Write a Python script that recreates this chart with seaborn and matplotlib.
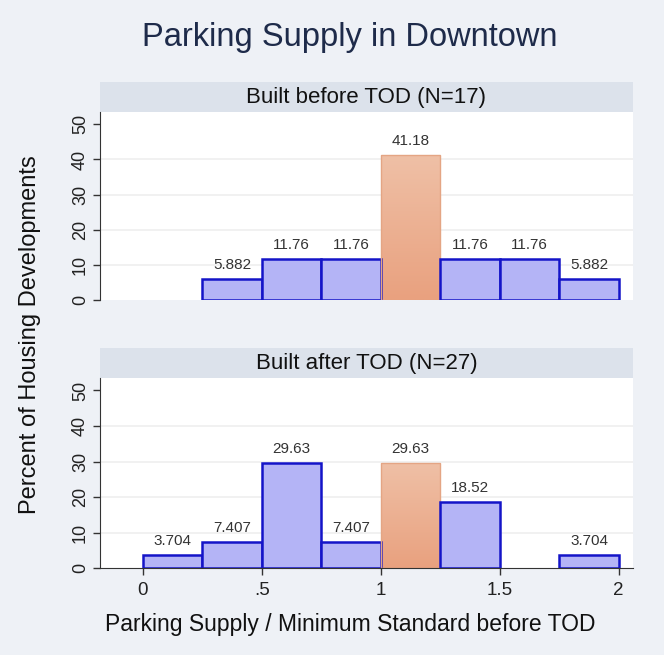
import numpy as np
import pandas as pd
import seaborn as sns
import matplotlib.pyplot as plt
from matplotlib.colors import LinearSegmentedColormap

bin_edges = [0, 0.25, 0.5, 0.75, 1.0, 1.25, 1.5, 1.75, 2.0]
bin_mid = [0.125, 0.375, 0.625, 0.875, 1.125, 1.375, 1.625, 1.875]
before_pct = [0, 5.882, 11.76, 11.76, 41.18, 11.76, 11.76, 5.882]
after_pct = [3.704, 7.407, 29.63, 7.407, 29.63, 18.52, 0, 3.704]
before_lab = ['', '5.882', '11.76', '11.76', '41.18', '11.76', '11.76', '5.882']
after_lab = ['3.704', '7.407', '29.63', '7.407', '29.63', '18.52', '', '3.704']
panel_titles = ['Built before TOD (N=17)', 'Built after TOD (N=27)']
highlight_bin = 4

xticks = [0, 0.5, 1, 1.5, 2]
xtick_labels = ['0', '.5', '1', '1.5', '2']
yticks = [0, 10, 20, 30, 40, 50]

sns.set_style('white')
plt.rcParams['font.family'] = ['Liberation Sans', 'DejaVu Sans']

bg = '#EEF1F6'
strip_col = '#DCE2EB'
fill = '#B4B4F6'
edge = '#1414C8'
orange = LinearSegmentedColormap.from_list('og', ['#E9A17F', '#EFC0A6'])

fig = plt.figure(figsize=(6.64, 6.55), dpi=100, facecolor=bg)
ax_top = fig.add_axes([0.1506, 0.542, 0.8027, 0.287])
ax_bot = fig.add_axes([0.1506, 0.1328, 0.8027, 0.290])

for ax, pct, labs, title in [(ax_top, before_pct, before_lab, panel_titles[0]),
                             (ax_bot, after_pct, after_lab, panel_titles[1])]:
    df = pd.DataFrame({'x': bin_mid, 'pct': pct})
    sns.histplot(data=df, x='x', weights='pct', bins=bin_edges, ax=ax,
                 color=fill, edgecolor=edge, linewidth=1.8, alpha=1)
    patches = ax.containers[0].patches
    for i, p in enumerate(patches):
        if pct[i] == 0:
            p.set_visible(False)
        if i == highlight_bin:
            p.set_facecolor('none')
            p.set_edgecolor('#E4A584')
            p.set_linewidth(1.0)
            x0, w, h = p.get_x(), p.get_width(), p.get_height()
            grad = np.linspace(0, 1, 100).reshape(-1, 1)
            im = ax.imshow(grad, cmap=orange, origin='lower', aspect='auto',
                           extent=[x0, x0 + w, 0, h], zorder=p.get_zorder() - 0.1)
            im.set_clip_path(p)
        if labs[i]:
            ax.annotate(labs[i], (p.get_x() + p.get_width() / 2, p.get_height()),
                        xytext=(0, 5), textcoords='offset points', ha='center',
                        va='bottom', fontsize=11, color='#333333')

    ax.set_xlim(-0.18, 2.06)
    ax.set_ylim(0, 53.5)
    ax.set_yticks(yticks)
    ax.set_yticklabels([str(t) for t in yticks], rotation=90, va='center', fontsize=13)
    ax.set_facecolor('white')
    for t in yticks[1:-1]:
        ax.axhline(t, color='#EFEFEF', lw=1.2, zorder=0)
    for s in ['top', 'right']:
        ax.spines[s].set_visible(False)
    ax.spines['left'].set_color('#333333')
    ax.spines['bottom'].set_color('#333333')
    ax.tick_params(axis='y', length=5, width=1, color='#333333', pad=3, left=True,
                   labelcolor='#222222')
    ax.set_xlabel('')
    ax.set_ylabel('')
    # strip header
    strip_h = 30 / 655 / ax.get_position().height
    ax.add_patch(plt.Rectangle((0, 1.0), 1, strip_h, transform=ax.transAxes,
                               facecolor=strip_col, edgecolor='none', clip_on=False))
    ax.text(0.5, 1.0 + strip_h / 2, title, transform=ax.transAxes, ha='center',
            va='center', fontsize=16, color='#111111')

ax_top.set_xticks([])
ax_top.spines['bottom'].set_visible(False)
ax_bot.set_xticks(xticks)
ax_bot.set_xticklabels(xtick_labels, fontsize=13.5)
ax_bot.tick_params(axis='x', length=5, width=1, color='#333333', bottom=True, pad=5,
                   labelcolor='#222222')

fig.text(0.527, 0.942, 'Parking Supply in Downtown', ha='center', va='center',
         fontsize=23.5, color='#1E2B4A')
fig.text(0.527, 0.046, 'Parking Supply / Minimum Standard before TOD', ha='center',
         va='center', fontsize=16.5, color='#111111')
fig.text(0.045, 0.489, 'Percent of Housing Developments', ha='center', va='center',
         rotation=90, fontsize=17, color='#111111')

plt.savefig('out.png', dpi=100, facecolor=bg)
